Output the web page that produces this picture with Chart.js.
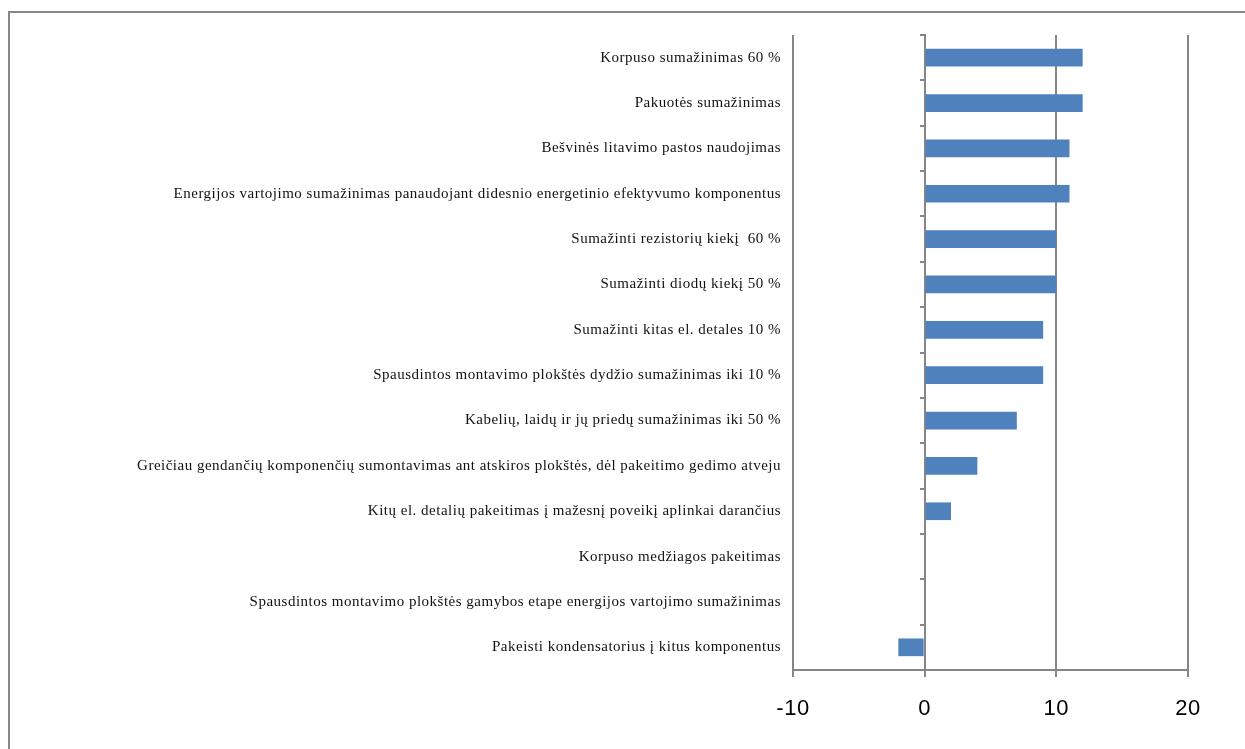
<!DOCTYPE html>
<html>
<head>
<meta charset="utf-8">
<script src="https://cdn.jsdelivr.net/npm/chart.js@4/dist/chart.umd.min.js"></script>
<style>
  html, body { margin: 0; padding: 0; background: #fff; }
  #frame { position: absolute; left: 8px; top: 11px; width: 1300px; height: 800px;
           border-left: 2px solid #878787; border-top: 2px solid #878787; }
  #wrap { position: absolute; left: 0; top: 0; width: 1245px; height: 749px; }
</style>
</head>
<body>
<div id="frame"></div>
<div id="wrap"><canvas id="c"></canvas></div>
<script>
// Environmental improvement measures and their scores
const categories = [
  "Korpuso sumažinimas 60 %",
  "Pakuotės sumažinimas",
  "Bešvinės litavimo pastos naudojimas",
  "Energijos vartojimo sumažinimas panaudojant didesnio energetinio efektyvumo komponentus",
  "Sumažinti rezistorių kiekį  60 %",
  "Sumažinti diodų kiekį 50 %",
  "Sumažinti kitas el. detales 10 %",
  "Spausdintos montavimo plokštės dydžio sumažinimas iki 10 %",
  "Kabelių, laidų ir jų priedų sumažinimas iki 50 %",
  "Greičiau gendančių komponenčių sumontavimas ant atskiros plokštės, dėl pakeitimo gedimo atveju",
  "Kitų el. detalių pakeitimas į mažesnį poveikį aplinkai darančius",
  "Korpuso medžiagos pakeitimas",
  "Spausdintos montavimo plokštės gamybos etape energijos vartojimo sumažinimas",
  "Pakeisti kondensatorius į kitus komponentus"
];
const scores = [12, 12, 11, 11, 10, 10, 9, 9, 7, 4, 2, 0, 0, -2];
const xTicks = [-10, 0, 10, 20];

const axisGrey = '#868686';

// slightly loose letter spacing for all canvas text
const spacing = {
  id: 'spacing',
  beforeDraw(chart) { chart.ctx.letterSpacing = '0.5px'; }
};

new Chart(document.getElementById('c'), {
  type: 'bar',
  plugins: [spacing],
  data: {
    labels: categories,
    datasets: [{
      data: scores,
      yAxisID: 'y',
      backgroundColor: '#4F81BD',
      borderWidth: 0,
      categoryPercentage: 1,
      barPercentage: 0.39
    }]
  },
  options: {
    indexAxis: 'y',
    responsive: true,
    maintainAspectRatio: false,
    animation: false,
    layout: { padding: { left: 0, right: 57, top: 35, bottom: 0 } },
    plugins: { legend: { display: false }, tooltip: { enabled: false } },
    scales: {
      x: {
        min: xTicks[0],
        max: xTicks[xTicks.length - 1],
        afterBuildTicks: s => { s.ticks = xTicks.map(v => ({ value: v })); },
        afterFit: s => { s.height = 79; },
        grid: { color: axisGrey, lineWidth: 2, tickLength: 7, tickColor: axisGrey },
        border: { color: axisGrey, width: 2 },
        ticks: { color: '#000', padding: 19, font: { family: 'Liberation Sans', size: 22 } }
      },
      y: {
        type: 'category',
        position: 'left',
        offset: true,
        afterFit: s => { s.width = 793; },
        grid: { display: false },
        border: { display: false },
        ticks: { color: '#111', padding: 4, autoSkip: false,
                 font: { family: 'Liberation Serif', size: 15 } }
      },
      yZero: {
        type: 'category',
        position: { x: 0 },
        offset: true,
        grid: { drawOnChartArea: false, offset: true, tickLength: 4, color: axisGrey, lineWidth: 2 },
        border: { display: true, color: axisGrey, width: 2 },
        ticks: { display: false, autoSkip: false }
      }
    }
  }
});
</script>
</body>
</html>
